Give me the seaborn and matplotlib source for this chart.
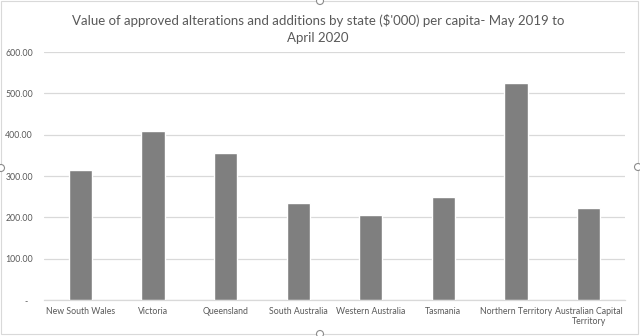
import matplotlib
matplotlib.use("Agg")
import matplotlib.pyplot as plt
import seaborn as sns
import pandas as pd
from matplotlib.patches import Rectangle, Ellipse

states = ["New South Wales", "Victoria", "Queensland", "South Australia",
          "Western Australia", "Tasmania", "Northern Territory",
          "Australian Capital\nTerritory"]
values = [315, 410, 356, 234, 206, 249, 526, 223]
yticks = [0, 100, 200, 300, 400, 500, 600]
ytick_labels = ["-  ", "100.00", "200.00", "300.00", "400.00", "500.00", "600.00"]
title = "Value of approved alterations and additions by state ($'000) per capita- May 2019 to\nApril 2020"

df = pd.DataFrame({"state": states, "value": values})

sns.set_theme(style="white")
plt.rcParams["font.family"] = ["Lato", "DejaVu Sans"]

fig = plt.figure(figsize=(6.4, 3.36), dpi=100)
ax = fig.add_axes([44/640, 1 - 300/336, 581/640, 248/336])

sns.barplot(data=df, x="state", y="value", color="#7f7f7f", saturation=1,
            width=0.32, ax=ax, zorder=3)

ax.set_ylim(0, 600)
ax.set_xlim(-0.5, len(states) - 0.5)
ax.set_yticks(yticks)
ax.set_yticklabels(ytick_labels)
ax.grid(axis="y", color="#d9d9d9", linewidth=0.9, zorder=0)
ax.set_xlabel("")
ax.set_ylabel("")
for s in ["top", "right", "left"]:
    ax.spines[s].set_visible(False)
ax.spines["bottom"].set_color("#d9d9d9")
ax.spines["bottom"].set_linewidth(0.9)
ax.tick_params(axis="both", length=0, labelsize=6.3, colors="#595959")
ax.tick_params(axis="y", pad=8)
ax.tick_params(axis="x", pad=5)

fig.text(0.497, 1 - 29/336, title, ha="center", va="center", fontsize=9.5,
         color="#595959", linespacing=1.5)

fig.patches.append(Rectangle((0.002, 0.006), 0.995, 0.99, transform=fig.transFigure,
                             fill=False, edgecolor="#d9d9d9", linewidth=0.8))
# selection handles
for (hx, hy) in [(1, 168), (638, 167), (320, 334), (320, 1)]:
    fig.patches.append(Ellipse((hx/640, 1 - hy/336), 7/640, 7/336,
                               transform=fig.transFigure, facecolor="white",
                               edgecolor="#8c8c8c", linewidth=0.8, zorder=10))

fig.savefig("out.png", dpi=100, facecolor="white")
